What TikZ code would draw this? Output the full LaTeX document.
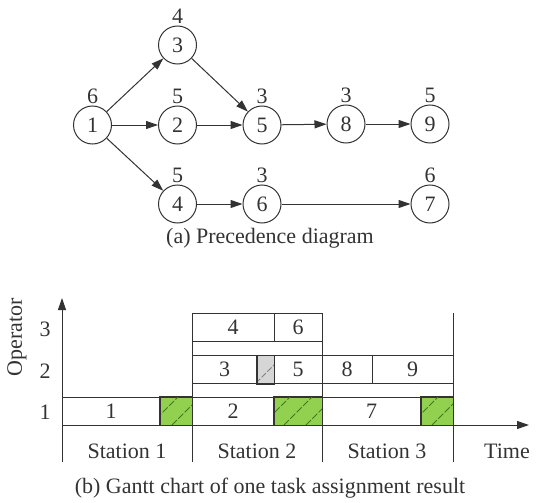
\documentclass[tikz,border=0pt]{standalone}
\usepackage{fontspec}
\setmainfont{Liberation Serif}
\usetikzlibrary{arrows.meta}
\definecolor{lc}{HTML}{333333}
\definecolor{gfill}{HTML}{92D050}
\definecolor{ghatch}{HTML}{3F7A22}
\definecolor{grfill}{HTML}{D6D6D6}
\begin{document}
\begin{tikzpicture}[x=1pt,y=-1pt,
  every node/.style={font=\fontsize{22}{26}\selectfont, text=lc},
  task/.style={circle, draw=lc, line width=1pt, minimum size=38pt, inner sep=0pt},
  lab/.style={inner sep=0pt},
  arr/.style={draw=lc, line width=1pt, -{Triangle[length=12pt,width=8pt]}},
  gbox/.style={rectangle, draw=lc, line width=1pt, inner sep=0pt, minimum height=28pt},
  line/.style={draw=lc, line width=1pt}]
\useasboundingbox (0,0) rectangle (541,503);
% precedence diagram
\node[task] (n1) at (92.5,125) {1};
\node[task] (n3) at (177.5,45) {3};
\node[task] (n2) at (177.5,125) {2};
\node[task] (n4) at (177.5,204) {4};
\node[task] (n5) at (262,125) {5};
\node[task] (n6) at (262,204) {6};
\node[task] (n8) at (346,124) {8};
\node[task] (n9) at (430,124) {9};
\node[task] (n7) at (430,204) {7};
\node[lab] at (92.5,96) {6};
\node[lab] at (177.5,16) {4};
\node[lab] at (177.5,96) {5};
\node[lab] at (177.5,175) {5};
\node[lab] at (262,96) {3};
\node[lab] at (262,175) {3};
\node[lab] at (346,95) {3};
\node[lab] at (430,95) {5};
\node[lab] at (430,175) {6};
\draw[arr] (n1) -- (n3);
\draw[arr] (n1) -- (n2);
\draw[arr] (n1) -- (n4);
\draw[arr] (n3) -- (n5);
\draw[arr] (n2) -- (n5);
\draw[arr] (n5) -- (n8);
\draw[arr] (n8) -- (n9);
\draw[arr] (n4) -- (n6);
\draw[arr] (n6) -- (n7);
\node[lab] (capa) at (270,238) {(a) Precedence diagram};
% gantt chart
\coordinate (o) at (62,462);
\coordinate (ytop) at (62,298);
\coordinate (xo) at (62,425);
\coordinate (xend) at (529,425);
% green and grey filled boxes
\node[gbox, fill=gfill, minimum width=32pt] (g1) at (176,411) {};
\node[gbox, fill=gfill, minimum width=48pt] (g2) at (298,411) {};
\node[gbox, fill=gfill, minimum width=32pt] (g3) at (437,411) {};
\node[gbox, fill=grfill, minimum width=17pt] (gr) at (265.5,369.5) {};
\begin{scope}
\clip (g1.south west) rectangle (g1.north east);
\foreach \s in {150,172,194} \draw[ghatch, line width=0.8pt, dash pattern=on 7pt off 2pt] (\s,425) -- ++(30,-30);
\end{scope}
\begin{scope}
\clip (g2.south west) rectangle (g2.north east);
\foreach \s in {262,284,306,328} \draw[ghatch, line width=0.8pt, dash pattern=on 7pt off 2pt] (\s,425) -- ++(30,-30);
\end{scope}
\begin{scope}
\clip (g3.south west) rectangle (g3.north east);
\foreach \s in {410,432,454} \draw[ghatch, line width=0.8pt, dash pattern=on 7pt off 2pt] (\s,425) -- ++(30,-30);
\end{scope}
\begin{scope}
\clip (gr.south west) rectangle (gr.north east);
\draw[gray, line width=0.8pt, dash pattern=on 6pt off 2pt] (256,383) -- ++(28,-28);
\end{scope}
\draw[gbox] (g1.south west) rectangle (g1.north east);
\draw[gbox] (g2.south west) rectangle (g2.north east);
\draw[gbox] (g3.south west) rectangle (g3.north east);
\draw[gbox] (gr.south west) rectangle (gr.north east);
% task boxes
\node[gbox, minimum width=98pt] (t1) at (111,411) {1};
\node[gbox, minimum width=82pt] (t2) at (233,411) {2};
\node[gbox, minimum width=99pt] (t7) at (371.5,411) {7};
\node[gbox, minimum width=65pt] (t3) at (224.5,369.5) {3};
\node[gbox, minimum width=48pt] (t5) at (298,369.5) {5};
\node[gbox, minimum width=50pt] (t8) at (347,369.5) {8};
\node[gbox, minimum width=81pt] (t9) at (412.5,369.5) {9};
\node[gbox, minimum width=82pt] (t4) at (233,327.5) {4};
\node[gbox, minimum width=48pt] (t6) at (298,327.5) {6};
% axes
\draw[line, -{Triangle[length=12pt,width=8pt]}] (o) -- (ytop);
\draw[line, -{Triangle[length=12pt,width=8pt]}] (xo) -- (xend);
% station dividers
\coordinate (d1t) at (192,313); \coordinate (d1b) at (192,462);
\coordinate (d2t) at (322,313); \coordinate (d2b) at (322,462);
\coordinate (d3t) at (453,313); \coordinate (d3b) at (453,462);
\draw[line] (d1t) -- (d1b);
\draw[line] (d2t) -- (d2b);
\draw[line] (d3t) -- (d3b);
% labels
\node[lab] at (45,412) {1};
\node[lab] at (45,371) {2};
\node[lab] at (45,329) {3};
\node[lab, rotate=90] at (17,337) {Operator};
\node[lab] at (127,451) {Station 1};
\node[lab] at (257,451) {Station 2};
\node[lab] at (387,451) {Station 3};
\node[lab] at (507,451) {Time};
\node[lab] (capb) at (270,488) {(b) Gantt chart of one task assignment result};
\end{tikzpicture}
\end{document}
